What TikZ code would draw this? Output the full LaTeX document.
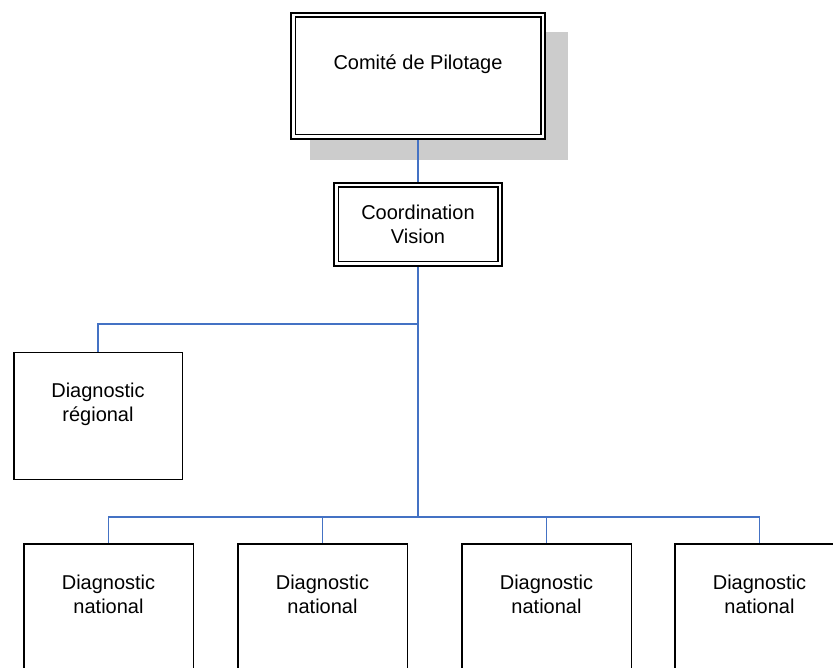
\documentclass[tikz,border=0pt]{standalone}
\usepackage{fontspec}
\setmainfont{Liberation Sans}
\usetikzlibrary{backgrounds}
\definecolor{linkblue}{RGB}{68,114,196}

\begin{document}
\begin{tikzpicture}[x=1pt, y=-1pt,
		box/.style={draw, line width=1.5pt, fill=white, inner sep=0pt, outer sep=0pt, align=center, font=\fontsize{20}{24}\selectfont},
		dbox/.style={box, double, line width=1.6pt, double distance=2.5pt},
		diagbox/.style={box, minimum width=169.5pt, minimum height=126.5pt},
		link/.style={draw=linkblue, line width=1.3pt}]
	
	\useasboundingbox (0,0) rectangle (833,668);
	
	\node [dbox, minimum width=249.5pt, minimum height=121.5pt, text height=54pt, text depth=67.5pt] (pilotage) at (418,76) {Comité de Pilotage};
	\node [dbox, minimum width=163.5pt, minimum height=78.5pt] (vision) at (418,224.5) {Coordination\\Vision};
	\node [diagbox, minimum width=168.5pt, text height=68.3pt, text depth=58.2pt] (regional) at (98,416) {Diagnostic\\régional};
	\foreach \n/\x in {1/108.5, 2/322.5, 3/546.5, 4/759.5}
		\node [diagbox, text height=69.3pt, text depth=57.2pt] (nat\n) at (\x,607) {Diagnostic\\national};
	
	\begin{scope}[on background layer]
		% ombre du comite
		\fill [gray!40] ([shift={(17,17)}]pilotage.north west) rectangle ([shift={(25,23)}]pilotage.south east);
		\coordinate (jreg) at (418,324);
		\coordinate (jnat) at (418,517);
		\draw [link] (pilotage.south) -- (vision.north);
		\draw [link] (vision.south) -- (jnat);
		\draw [link] (jreg) -| (regional.north);
		\foreach \n in {1,...,4}
			\draw [link] (jnat) -| (nat\n.north);
	\end{scope}
\end{tikzpicture}
\end{document}
